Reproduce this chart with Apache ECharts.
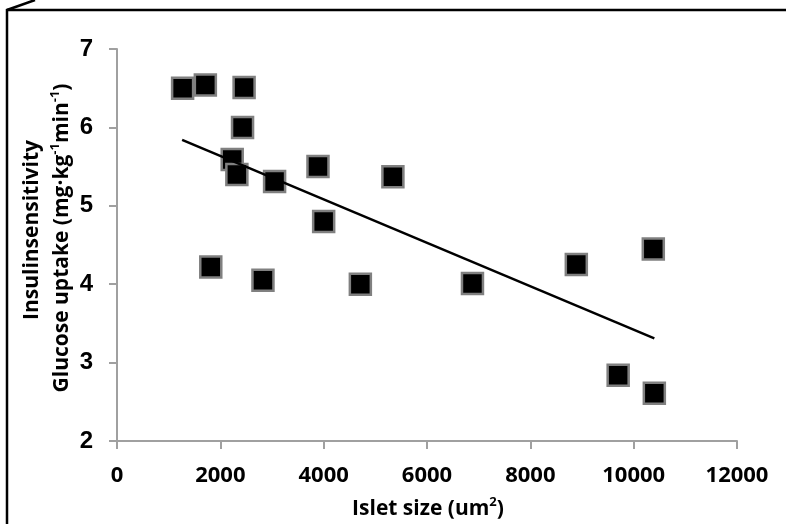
<!DOCTYPE html>
<html>
<head>
<meta charset="utf-8">
<script src="https://cdn.jsdelivr.net/npm/echarts@6/dist/echarts.min.js"></script>
<style>
  html, body { margin: 0; padding: 0; background: #fff; }
  #main { width: 786px; height: 524px; }
</style>
</head>
<body>
<div id="main"></div>
<script>
// islet size (um2) vs glucose uptake
var isletSize = [1270, 1710, 2460, 2430, 2230, 2320, 3050, 3890, 5340, 4000, 1815, 2825, 4710, 6880, 8890, 10380, 9700, 10400];
var glucoseUptake = [6.5, 6.54, 6.51, 6.0, 5.59, 5.4, 5.31, 5.5, 5.37, 4.8, 4.22, 4.05, 4.0, 4.01, 4.25, 4.45, 2.84, 2.61];
// trendline end points
var trendX = [1260, 10400];
var trendY = [5.84, 3.31];

var xTicks = [0, 12000, 2000];   // min, max, step
var yTicks = [2, 7, 1];

var points = isletSize.map(function (x, i) { return [x, glucoseUptake[i]]; });
var trend = trendX.map(function (x, i) { return [x, trendY[i]]; });

var chart = echarts.init(document.getElementById('main'));
var axisGray = '#a0a0a0';
var titleFont = '"Open Sans", Lato, sans-serif';
var titleRich = {
  t: { fontFamily: titleFont, fontWeight: 'bold', fontSize: 21, fill: '#000', lineHeight: 26 },
  sup: { fontFamily: titleFont, fontWeight: 'bold', fontSize: 13, fill: '#000', verticalAlign: 'top', lineHeight: 26 }
};
function titleText(x, y, rot, text) {
  return {
    type: 'text', x: x, y: y, rotation: rot, z: 10,
    style: {
      text: text, rich: titleRich, align: 'center', verticalAlign: 'middle',
      fontFamily: titleFont, fontWeight: 'bold', fontSize: 21, fill: '#000'
    }
  };
}
chart.setOption({
  animation: false,
  backgroundColor: '#fff',
  grid: { left: 117, right: 49, top: 49, bottom: 83 },
  xAxis: {
    type: 'value',
    min: xTicks[0], max: xTicks[1], interval: xTicks[2],
    splitLine: { show: false },
    axisLine: { show: true, lineStyle: { color: axisGray, width: 2 } },
    axisTick: { show: true, length: 8, lineStyle: { color: axisGray, width: 2 } },
    axisLabel: {
      margin: 24, color: '#000', fontFamily: titleFont, fontWeight: 700, fontSize: 22,
      formatter: function (v) { return String(v); }
    }
  },
  yAxis: {
    type: 'value',
    min: yTicks[0], max: yTicks[1], interval: yTicks[2],
    splitLine: { show: false },
    axisLine: { show: true, lineStyle: { color: axisGray, width: 2 } },
    axisTick: { show: true, length: 8, lineStyle: { color: axisGray, width: 2 } },
    axisLabel: {
      margin: 24, color: '#000', fontFamily: '"Liberation Sans", Arial, sans-serif', fontWeight: 700, fontSize: 24,
      formatter: function (v) { return String(v); }
    }
  },
  graphic: [
    { type: 'polyline', shape: { points: [[35, 0], [7, 10], [7, 524]] }, style: { stroke: '#000', lineWidth: 2.5, fill: null } },
    { type: 'line', shape: { x1: 7, y1: 10, x2: 786, y2: 10 }, style: { stroke: '#000', lineWidth: 2.5 } },
    titleText(428, 509, 0, '{t|Islet size (um}{sup|2}{t|)}'),
    titleText(32, 230, Math.PI / 2, '{t|Insulinsensitivity}'),
    titleText(62, 238, Math.PI / 2, '{t|Glucose uptake (mg·kg}{sup|-1}{t|min}{sup|-1}{t|)}')
  ],
  series: [
    {
      type: 'line',
      data: trend,
      symbol: 'none',
      lineStyle: { color: '#000', width: 2.5 },
      z: 3
    },
    {
      type: 'scatter',
      data: points,
      symbol: 'rect',
      symbolSize: 21,
      itemStyle: { color: '#000', borderColor: '#808080', borderWidth: 2.5, opacity: 1 },
      z: 2
    }
  ]
});
</script>
</body>
</html>
